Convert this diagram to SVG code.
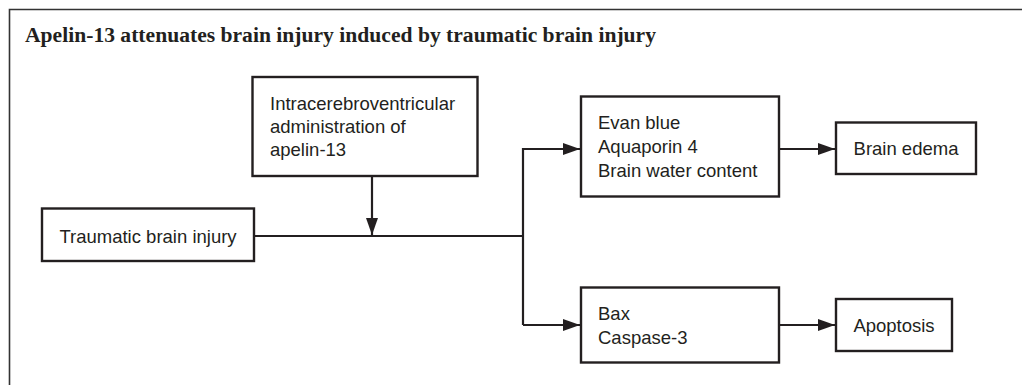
<svg xmlns="http://www.w3.org/2000/svg" width="1022" height="385" viewBox="0 0 1022 385">
<style>
.box{fill:#fff;stroke:#231f20;stroke-width:2.4}
.t{font-family:"Liberation Sans",Arial,sans-serif;font-size:18.5px;fill:#231f20}
.c{text-anchor:middle}
.ln{fill:none;stroke:#231f20;stroke-width:2.2}
.title{font-family:"Liberation Serif","Times New Roman",serif;font-weight:bold;font-size:20px;fill:#231f20}
</style>
<defs>
<marker id="ah" markerUnits="userSpaceOnUse" markerWidth="18" markerHeight="13" refX="17" refY="6" orient="auto">
<path d="M0,0 L17,6 L0,12 z" fill="#231f20"/>
</marker>
</defs>
<rect width="1022" height="385" fill="#fff"/>
<g id="frame">
<path d="M9.5,385 V9.5 H1022" fill="none" stroke="#333" stroke-width="1.6"/>
<text class="title" x="25" y="41.5" textLength="631" lengthAdjust="spacingAndGlyphs">Apelin-13 attenuates brain injury induced by traumatic brain injury</text>
</g>
<g id="connectors">
<path class="ln" d="M254,236 H523"/>
<path class="ln" d="M372,176 V235" marker-end="url(#ah)"/>
<path class="ln" d="M523,325 V149 H580" marker-end="url(#ah)"/>
<path class="ln" d="M523,325 H580" marker-end="url(#ah)"/>
<path class="ln" d="M779,149 H835" marker-end="url(#ah)"/>
<path class="ln" d="M779,325 H835" marker-end="url(#ah)"/>
</g>
<g id="icv">
<rect class="box" x="252.5" y="77" width="225" height="99"/>
<text class="t" x="270" y="110">Intracerebroventricular</text>
<text class="t" x="270" y="133">administration of</text>
<text class="t" x="270" y="156">apelin-13</text>
</g>
<g id="tbi">
<rect class="box" x="42" y="208.5" width="212" height="52.5"/>
<text class="t c" x="148" y="242.5">Traumatic brain injury</text>
</g>
<g id="markers1">
<rect class="box" x="581" y="96.5" width="198" height="100"/>
<text class="t" x="598" y="129">Evan blue</text>
<text class="t" x="598" y="153">Aquaporin 4</text>
<text class="t" x="598" y="176.5">Brain water content</text>
</g>
<g id="edema">
<rect class="box" x="836" y="122.5" width="140" height="51.5"/>
<text class="t c" x="906" y="155">Brain edema</text>
</g>
<g id="markers2">
<rect class="box" x="581" y="287.5" width="198" height="75"/>
<text class="t" x="598" y="319.5">Bax</text>
<text class="t" x="598" y="343.5">Caspase-3</text>
</g>
<g id="apoptosis">
<rect class="box" x="836" y="299" width="116" height="52"/>
<text class="t c" x="894" y="331.5">Apoptosis</text>
</g>
</svg>
